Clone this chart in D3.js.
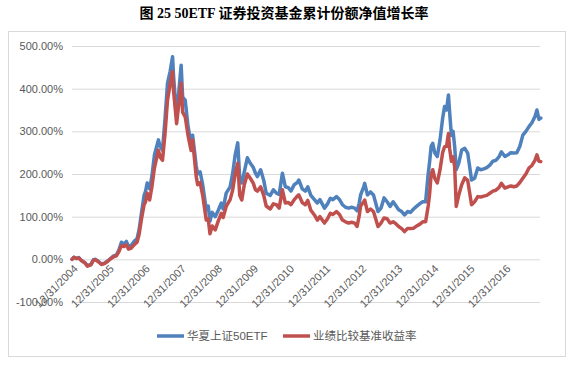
<!DOCTYPE html>
<html><head><meta charset="utf-8">
<script src="https://cdn.jsdelivr.net/npm/d3@7/dist/d3.min.js"></script>
<style>body{margin:0;background:#fff}svg{display:block}</style>
</head><body><svg id="c" width="575" height="368"></svg>
<script>
const titleText = "图 25 50ETF 证券投资基金累计份额净值增长率";
const seriesNames = ["华夏上证50ETF", "业绩比较基准收益率"];
const yTicks = [-100, 0, 100, 200, 300, 400, 500];
const xTickDates = ["2004-12-31","2005-12-31","2006-12-31","2007-12-31","2008-12-31","2009-12-31","2010-12-31","2011-12-31","2012-12-31","2013-12-31","2014-12-31","2015-12-31","2016-12-31"];
const dates = ["2004-12-31","2005-01-20","2005-02-15","2005-03-10","2005-04-05","2005-05-10","2005-06-05","2005-07-10","2005-08-05","2005-08-25","2005-09-20","2005-10-25","2005-11-25","2005-12-31","2006-01-25","2006-02-25","2006-03-25","2006-04-20","2006-05-15","2006-06-10","2006-07-05","2006-07-25","2006-08-20","2006-09-20","2006-10-20","2006-11-10","2006-12-05","2006-12-31","2007-01-15","2007-01-31","2007-02-25","2007-03-20","2007-04-15","2007-05-25","2007-06-10","2007-07-05","2007-07-31","2007-08-25","2007-09-20","2007-10-15","2007-10-25","2007-11-25","2007-12-20","2008-01-10","2008-01-25","2008-02-20","2008-03-20","2008-04-20","2008-05-05","2008-06-10","2008-06-25","2008-07-20","2008-08-15","2008-09-20","2008-10-10","2008-10-28","2008-11-20","2008-12-20","2009-01-20","2009-02-20","2009-03-10","2009-04-10","2009-05-20","2009-06-15","2009-07-10","2009-08-05","2009-08-25","2009-09-15","2009-10-10","2009-11-10","2009-12-10","2010-01-10","2010-01-31","2010-02-20","2010-03-25","2010-04-25","2010-05-20","2010-06-30","2010-07-31","2010-08-31","2010-09-28","2010-10-31","2010-11-30","2010-12-31","2011-01-25","2011-02-28","2011-03-31","2011-04-15","2011-05-20","2011-06-20","2011-07-15","2011-08-15","2011-09-20","2011-10-20","2011-11-15","2011-12-31","2012-01-31","2012-02-28","2012-03-25","2012-04-30","2012-05-31","2012-06-30","2012-07-31","2012-08-31","2012-09-30","2012-10-31","2012-11-25","2012-12-15","2012-12-31","2013-01-31","2013-02-10","2013-03-10","2013-04-10","2013-05-10","2013-06-25","2013-07-25","2013-08-25","2013-09-25","2013-10-25","2013-11-25","2013-12-25","2014-01-20","2014-02-20","2014-03-20","2014-04-20","2014-05-20","2014-06-20","2014-07-20","2014-08-20","2014-09-20","2014-10-20","2014-11-15","2014-11-30","2014-12-15","2014-12-31","2015-01-20","2015-02-15","2015-03-15","2015-04-10","2015-04-30","2015-05-20","2015-06-08","2015-06-20","2015-07-08","2015-07-25","2015-08-10","2015-08-26","2015-09-20","2015-10-20","2015-11-20","2015-12-20","2016-01-28","2016-02-28","2016-03-31","2016-04-30","2016-05-31","2016-06-30","2016-07-31","2016-08-31","2016-09-30","2016-10-31","2016-11-25","2016-12-31","2017-01-31","2017-02-28","2017-03-31","2017-04-30","2017-05-31","2017-06-30","2017-07-31","2017-08-31","2017-09-30","2017-10-31","2017-11-20","2017-12-10","2017-12-29"];
const etf = [0,5,2,4,-3,-8,-15,-12,-1,0,-4,-11,-9,-3,2,8,10,22,40,36,42,30,32,42,48,69,110,150,160,179,165,195,245,280,265,256,330,413,440,475,430,335,400,455,380,373,311,270,291,220,200,205,175,116,125,90,110,100,115,132,118,155,170,202,245,273,190,179,205,238,225,215,202,194,210,185,155,150,163,155,152,202,170,168,160,175,180,186,165,160,170,150,140,132,140,120,130,143,140,147,140,128,122,120,122,120,114,130,151,170,178,151,158,151,112,120,144,135,124,135,125,116,112,104,112,110,118,124,130,135,135,200,230,265,272,250,241,280,330,358,350,385,345,290,300,264,210,225,256,260,249,186,190,214,210,212,215,221,230,232,240,252,241,245,250,249,250,265,291,300,311,320,335,350,328,331];
const bench = [0,5,2,3,-3,-8,-16,-13,-2,-1,-5,-12,-10,-4,1,6,8,18,32,30,34,24,26,34,40,58,95,128,135,155,139,170,215,256,240,232,295,373,410,440,395,318,370,413,345,334,290,255,280,195,175,180,150,92,95,60,78,69,90,108,98,124,140,163,200,225,150,139,175,200,190,178,163,160,170,150,125,118,130,128,120,163,132,133,128,140,148,151,133,128,138,115,104,92,100,85,95,108,105,112,105,92,88,85,87,85,77,100,125,135,139,112,118,112,77,85,97,95,85,88,83,77,72,65,72,72,73,78,82,88,88,125,155,200,210,190,179,210,250,264,265,295,260,230,240,217,124,150,175,191,185,128,135,147,146,148,150,155,160,162,168,178,167,170,172,170,172,180,190,200,214,220,232,245,230,229];
const colors = ["#4F81BD", "#C0504D"];

const svg = d3.select("#c");
const parse = d3.timeParse("%Y-%m-%d");
const plot = {left: 72, right: 541, top: 46, bottom: 302};

svg.append("rect").attr("x", 8.5).attr("y", 31.5).attr("width", 557).attr("height", 325)
  .attr("fill", "#fff").attr("stroke", "#D9D9D9").attr("stroke-width", 1);

svg.append("text").attr("x", 284).attr("y", 18).attr("text-anchor", "middle")
  .attr("font-family", "'Liberation Serif','Noto Sans CJK SC',serif").attr("font-weight", "bold")
  .attr("font-size", 14).attr("fill", "#000").text(titleText);

const x = d3.scaleTime().domain([parse("2004-12-31"), parse("2017-12-31")]).range([plot.left, plot.right]);
const y = d3.scaleLinear().domain([-100, 500]).range([plot.bottom, plot.top]);

const yAxis = d3.axisLeft(y).tickValues(yTicks).tickSize(-(540 - plot.left)).tickPadding(9)
  .tickFormat(d => d.toFixed(2) + "%");
const gy = svg.append("g").attr("transform", `translate(${plot.left},0)`).call(yAxis);
gy.select(".domain").remove();
gy.selectAll(".tick line").attr("stroke", "#D9D9D9").attr("stroke-width", 1);
gy.selectAll(".tick text").attr("fill", "#595959").attr("font-size", 11)
  .attr("font-family", "'Liberation Sans',Arial,sans-serif");

const xAxis = d3.axisBottom(x).tickValues(xTickDates.map(parse)).tickSize(0).tickFormat(d3.timeFormat("%m/%d/%Y"));
const gx = svg.append("g").attr("transform", `translate(0,${y(0)})`).call(xAxis);
gx.select(".domain").remove();
gx.selectAll(".tick text").attr("fill", "#595959").attr("font-size", 11)
  .attr("font-family", "'Liberation Sans',Arial,sans-serif")
  .attr("text-anchor", "end").attr("dy", null).attr("y", 0)
  .attr("transform", "translate(6,10) rotate(-45)");

const pts = dates.map(parse);
const line = d3.line().x((d, i) => x(pts[i])).y(d => y(d));
[etf, bench].forEach((s, k) => {
  svg.append("path").datum(s).attr("d", line).attr("fill", "none")
    .attr("stroke", colors[k]).attr("stroke-width", 3.5)
    .attr("stroke-linejoin", "round").attr("stroke-linecap", "round");
});

const legendX = [157, 283];
seriesNames.forEach((n, k) => {
  svg.append("line").attr("x1", legendX[k]).attr("x2", legendX[k] + 27).attr("y1", 336).attr("y2", 336)
    .attr("stroke", colors[k]).attr("stroke-width", 3.5);
  svg.append("text").attr("x", legendX[k] + 30).attr("y", 340).attr("fill", "#595959")
    .attr("font-size", 11.5).attr("font-family", "'Liberation Sans','Noto Sans CJK SC',sans-serif").text(n);
});
</script></body></html>
